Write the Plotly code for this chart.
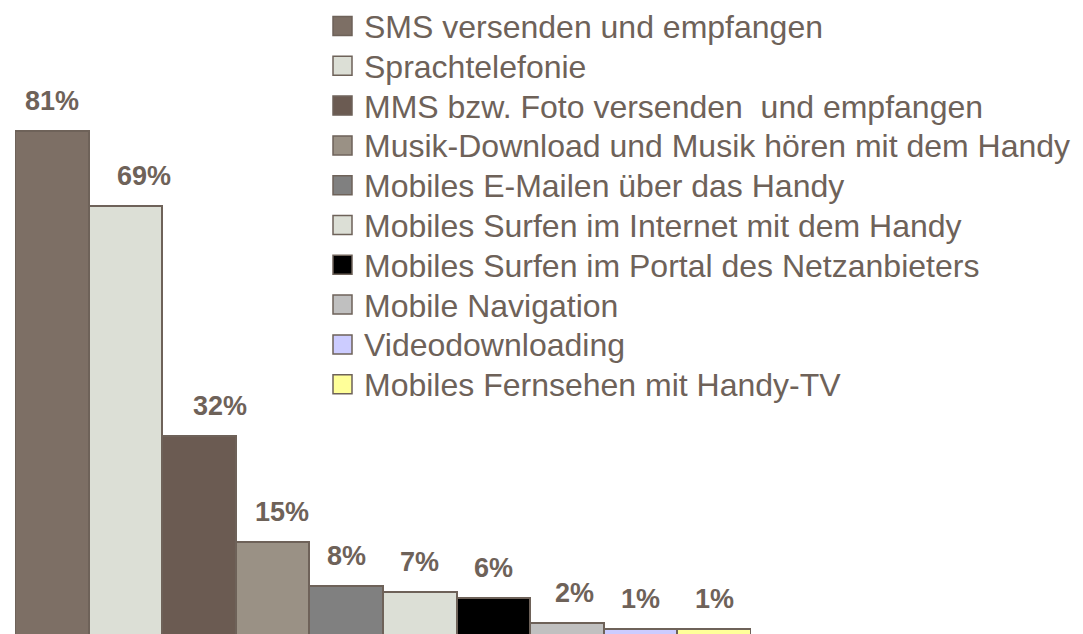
import plotly.graph_objects as go

# ---- data ----
categories = [
    "SMS versenden und empfangen",
    "Sprachtelefonie",
    "MMS bzw. Foto versenden  und empfangen",
    "Musik-Download und Musik hören mit dem Handy",
    "Mobiles E-Mailen über das Handy",
    "Mobiles Surfen im Internet mit dem Handy",
    "Mobiles Surfen im Portal des Netzanbieters",
    "Mobile Navigation",
    "Videodownloading",
    "Mobiles Fernsehen mit Handy-TV",
]
values = [81, 69, 32, 15, 8, 7, 6, 2, 1, 1]
value_labels = ["81%", "69%", "32%", "15%", "8%", "7%", "6%", "2%", "1%", "1%"]

# ---- style ----
colors = ["#7d6f65", "#dcdfd6", "#6b5b52", "#9a9185", "#808080",
          "#dcdfd6", "#000000", "#c0c0c0", "#ccccff", "#ffff99"]
label_xshift = [0, 19, 21, 9, 0, 0, 0, 7, 0, 0]
edge = "#6e6259"
text_col = "#6e6259"
font_family = "Liberation Sans, Arial, sans-serif"

W, H = 1083, 634
OFF = 8  # page body margin
# plot area in page pixels
PX0, PX1 = 15, 751
ML = PX0 - OFF
MR = W - (PX1 - OFF)
MT, MB = 0, 0
PW = W - ML - MR
PH = H - MT - MB

# y scale: baseline at page y 635.4, 6.227 px per unit
BASE, SCALE = 635.4, 6.227
y_top = (BASE - OFF) / SCALE
y_bot = (BASE - OFF - H) / SCALE


def px_x(px):
    return (px - OFF - ML) / PW


def px_y(py):
    return 1 - (py - OFF - MT) / PH


fig = go.Figure()
fig.add_trace(go.Bar(
    x=list(range(len(categories))),
    y=values,
    marker=dict(color=colors, line=dict(color=edge, width=2)),
    hovertext=categories,
    showlegend=False,
))

annotations = []
for i, (v, lab) in enumerate(zip(values, value_labels)):
    annotations.append(dict(
        x=i, y=v, xref="x", yref="y", text=lab, showarrow=False,
        yanchor="bottom", xanchor="center", yshift=13, xshift=label_xshift[i],
        font=dict(family=font_family, size=27, color=text_col, weight="bold"),
    ))

shapes = []
row0, step = 26, 39.8
for i, (cat, col) in enumerate(zip(categories, colors)):
    cy = row0 + step * i
    shapes.append(dict(
        type="rect", xref="paper", yref="paper",
        x0=px_x(333), x1=px_x(352), y0=px_y(cy - 9.5), y1=px_y(cy + 9.5),
        fillcolor=col, line=dict(color=edge, width=1.5),
    ))
    annotations.append(dict(
        x=px_x(362), y=px_y(cy + 1), xref="paper", yref="paper", text=cat,
        showarrow=False, xanchor="left", yanchor="middle",
        font=dict(family=font_family, size=32, color=text_col),
    ))

fig.update_layout(
    width=W, height=H,
    margin=dict(l=ML, r=MR, t=MT, b=MB),
    paper_bgcolor="white", plot_bgcolor="white",
    bargap=0,
    xaxis=dict(visible=False, range=[-0.5, 9.5]),
    yaxis=dict(visible=False, range=[y_bot, y_top]),
    annotations=annotations,
    shapes=shapes,
    showlegend=False,
)

fig.write_html("out.html")
